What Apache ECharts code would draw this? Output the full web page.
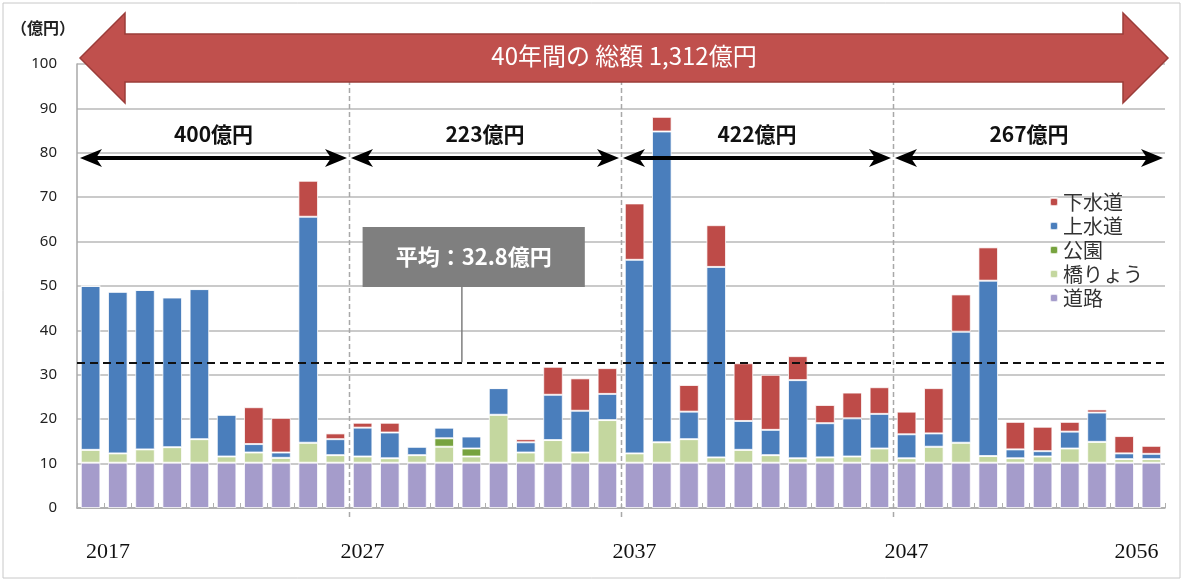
<!DOCTYPE html>
<html><head><meta charset="utf-8">
<script src="https://cdn.jsdelivr.net/npm/echarts@6/dist/echarts.min.js"></script>
<style>html,body{margin:0;padding:0;background:#fff}#c{width:1184px;height:583px}</style>
</head><body><div id="c"></div>
<script>
var years = ['2017','2018','2019','2020','2021','2022','2023','2024','2025','2026',
 '2027','2028','2029','2030','2031','2032','2033','2034','2035','2036',
 '2037','2038','2039','2040','2041','2042','2043','2044','2045','2046',
 '2047','2048','2049','2050','2051','2052','2053','2054','2055','2056'];
var road   = [10.2,10.2,10.2,10.2,10.2,10.2,10.2,10.2,10.2,10.2, 10.2,10.2,10.2,10.2,10.2,10.2,10.2,10.2,10.2,10.2, 10.2,10.2,10.2,10.2,10.2,10.2,10.2,10.2,10.2,10.2, 10.2,10.2,10.2,10.2,10.2,10.2,10.2,10.2,10.2,10.2];
var bridge = [2.9,2.1,3.0,3.5,5.3,1.4,2.3,1.1,4.5,1.7, 1.4,1.0,1.7,3.6,1.4,10.8,2.3,5.1,2.3,9.6, 2.1,4.6,5.3,1.2,2.9,1.7,1.0,1.2,1.4,3.2, 1.0,3.6,4.5,1.5,1.0,1.4,3.2,4.7,0.8,0.8];
var park   = [0,0,0,0,0,0,0,0,0,0, 0,0,0,1.9,1.8,0,0,0,0,0, 0,0,0,0,0,0,0,0,0,0, 0,0,0,0,0,0,0,0,0,0];
var water  = [36.9,36.4,35.9,33.7,33.8,9.4,1.9,1.2,50.9,3.6, 6.5,5.8,1.9,2.4,2.7,6.0,2.3,10.2,9.4,5.9, 43.6,70.0,6.2,42.9,6.5,5.7,17.6,7.7,8.6,7.8, 5.4,3.0,25.0,39.5,2.0,1.2,3.8,6.6,1.3,1.2];
var sewer  = [0,0,0,0,0,0,8.3,7.8,8.1,1.3, 1.1,2.2,0,0,0,0,0.7,6.3,7.3,5.8, 12.7,3.3,6.0,9.4,13.0,12.4,5.4,4.1,5.8,6.0, 5.1,10.2,8.4,7.5,6.2,5.5,2.2,0.7,3.9,1.8];
var seriesNames = ['道路','橋りょう','公園','上水道','下水道'];
var periodTotals = ['400億円','223億円','422億円','267億円'];
var periodBounds = [0,10,20,30,40];
var average = 32.8;
var averageLabel = '平均：32.8億円';
var totalLabel = '40年間の 総額 1,312億円';
var shownYears = [0,10,20,30,39];

var colors = ['#a59ccb','#c4d79f','#77a33f','#4a7ebc','#be4b48'];
var JP = '"Noto Sans CJK JP","Noto Sans",sans-serif';
var chart = echarts.init(document.getElementById('c'));
var dataSets = [road,bridge,park,water,sewer];
var series = dataSets.map(function(d,i){
  return {name:seriesNames[i],type:'bar',stack:'t',data:d,barCategoryGap:'28%',
    itemStyle:{color:colors[i],borderColor:'rgba(255,255,255,0.75)',borderWidth:1},
    emphasis:{disabled:true},animation:false};
});
series[0].markLine = {silent:true,symbol:'none',animation:false,
  label:{show:false},lineStyle:{color:'#111',type:[8,5],width:2},data:[{yAxis:average}]};

chart.setOption({
  animation:false,
  grid:{left:77,right:19,top:64,bottom:75},
  legend:{orient:'vertical',left:1044,top:187,itemWidth:8,itemHeight:8,itemGap:4,
    data:['下水道','上水道','公園','橋りょう','道路'],
    textStyle:{fontFamily:JP,fontSize:20,color:'#333',padding:[0,0,0,0]}},
  xAxis:[{type:'category',data:years,
    axisLine:{lineStyle:{color:'#a8a8a8',width:1.5}},
    axisTick:{show:true,inside:true,length:5,interval:0,lineStyle:{color:'#b0b0b0'}},
    axisLabel:{interval:function(i){return shownYears.indexOf(i)>=0;},margin:33,
      fontFamily:'"Liberation Serif","DejaVu Serif",serif',fontSize:22,color:'#111',
      formatter:function(v,i){ if(i===0) return '{l|'+v+'}'; if(i===39) return '{r|'+v+'}'; return v;},
      rich:{l:{fontFamily:'"Liberation Serif",serif',fontSize:22,color:'#111',padding:[0,0,0,35]},
            r:{fontFamily:'"Liberation Serif",serif',fontSize:22,color:'#111',padding:[0,30,0,0]}}}},
    {type:'value',min:0,max:40,show:false}],
  yAxis:{type:'value',min:0,max:100,interval:10,
    name:'（億円）',nameLocation:'end',nameGap:28,
    nameTextStyle:{fontFamily:JP,fontSize:16,fontWeight:'bold',color:'#222',align:'right',padding:[0,2,0,0]},
    axisLine:{show:true,lineStyle:{color:'#a8a8a8',width:1.5}},
    axisTick:{show:false},
    axisLabel:{margin:20,fontFamily:'"Noto Sans",sans-serif',fontSize:15,color:'#222'},
    splitLine:{lineStyle:{color:'#b8b8b8',width:1.5}}},
  series:series
});

function px(xv){return chart.convertToPixel({xAxisIndex:1},xv);}
function py(yv){return chart.convertToPixel({yAxisIndex:0},yv);}
var g = [];
g.push({type:'rect',shape:{x:3,y:3,width:1177,height:575},style:{fill:'none',stroke:'#c8c8c8',lineWidth:1},silent:true,z:0});
// period boundary dashed lines (drawn first, under the red arrow)
for (var j=1;j<4;j++){
  var bxp = Math.round(px(periodBounds[j]))+0.5;
  g.push({type:'line',shape:{x1:bxp,y1:py(100),x2:bxp,y2:py(0)+10},style:{stroke:'#a8a8a8',lineWidth:1.5,lineDash:[5,3]},silent:true,z:1});
}
// big red double arrow
var L = px(0)+3, R = px(40)+3, cy = 58, bh = 24, hh = 45, hw = 45;
g.push({type:'polygon',shape:{points:[[L,cy],[L+hw,cy-hh],[L+hw,cy-bh],[R-hw,cy-bh],[R-hw,cy-hh],[R,cy],[R-hw,cy+hh],[R-hw,cy+bh],[L+hw,cy+bh],[L+hw,cy+hh]]},
  style:{fill:'#c0504d',stroke:'#9b3c39',lineWidth:1.5},silent:true,z:5});
g.push({type:'text',x:(L+R)/2,y:cy-2,style:{text:totalLabel,fill:'#fff',font:'24px '+JP,textAlign:'center',textVerticalAlign:'middle'},silent:true,z:6});
// period arrows
var ay = 158;
for (var k=0;k<4;k++){
  var a = px(periodBounds[k])+ (k===0?3:2), b = px(periodBounds[k+1])-2;
  g.push({type:'line',shape:{x1:a+8,y1:ay,x2:b-8,y2:ay},style:{stroke:'#000',lineWidth:4},silent:true,z:5});
  g.push({type:'polygon',shape:{points:[[a,ay],[a+22,ay-9],[a+16,ay],[a+22,ay+9]]},style:{fill:'#000'},silent:true,z:5});
  g.push({type:'polygon',shape:{points:[[b,ay],[b-22,ay-9],[b-16,ay],[b-22,ay+9]]},style:{fill:'#000'},silent:true,z:5});
  g.push({type:'text',x:(a+b)/2,y:134,style:{text:periodTotals[k],fill:'#111',font:'bold 21px '+JP,textAlign:'center',textVerticalAlign:'middle'},silent:true,z:5});
}
// average callout box
var bx1 = px(10.5), bx2 = px(18.67), by1 = py(63.3), by2 = py(49.8), lx = px(14.15);
g.push({type:'line',shape:{x1:lx,y1:by2,x2:lx,y2:py(average)},style:{stroke:'#7f7f7f',lineWidth:1.5},silent:true,z:5});
g.push({type:'rect',shape:{x:bx1,y:by1,width:bx2-bx1,height:by2-by1},style:{fill:'#7f7f7f'},silent:true,z:5});
g.push({type:'text',x:(bx1+bx2)/2,y:(by1+by2)/2,style:{text:averageLabel,fill:'#fff',font:'bold 22px '+JP,textAlign:'center',textVerticalAlign:'middle'},silent:true,z:6});
chart.setOption({graphic:g});
</script></body></html>
